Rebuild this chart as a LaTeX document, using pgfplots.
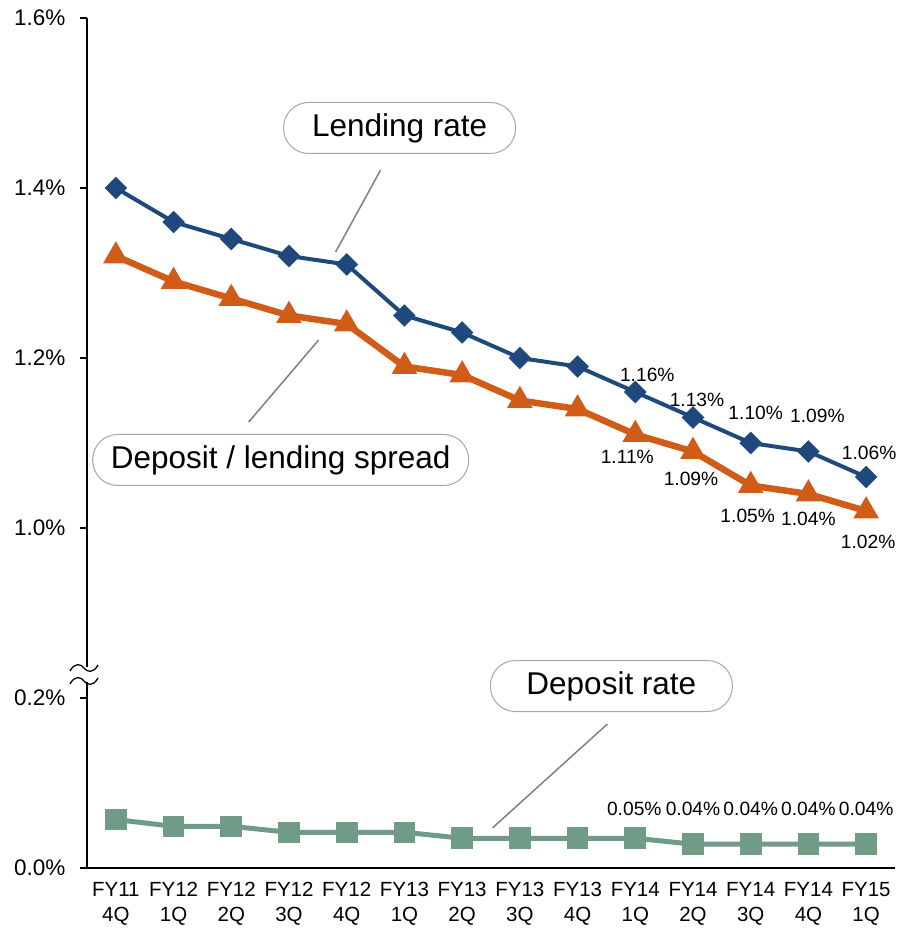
\documentclass[border=0pt]{standalone}
\usepackage{fontspec}
\setmainfont{Liberation Sans}
\usepackage{pgfplots}
\usepackage{pgfplotstable}
\pgfplotsset{compat=1.18}
\definecolor{lendblue}{RGB}{31,73,125}
\definecolor{sprorange}{RGB}{208,92,24}
\definecolor{depgreen}{RGB}{111,155,135}

% x = quarter index, y = rate in %, lab = data label, dx/dy = label offset (pt)
\pgfplotstableread{
x y lab dx dy
0 1.40 1.40 0 0
1 1.36 1.36 0 0
2 1.34 1.34 0 0
3 1.32 1.32 0 0
4 1.31 1.31 0 0
5 1.25 1.25 0 0
6 1.23 1.23 0 0
7 1.20 1.20 0 0
8 1.19 1.19 0 0
9 1.16 1.16 12 17
10 1.13 1.13 4 17.5
11 1.10 1.10 5 30
12 1.09 1.09 9 35.5
13 1.06 1.06 3 24
}\lending

\pgfplotstableread{
x y lab dx dy
0 1.32 1.32 0 0
1 1.29 1.29 0 0
2 1.27 1.27 0 0
3 1.25 1.25 0 0
4 1.24 1.24 0 0
5 1.19 1.19 0 0
6 1.18 1.18 0 0
7 1.15 1.15 0 0
8 1.14 1.14 0 0
9 1.11 1.11 -8 -22.5
10 1.09 1.09 -2 -27
11 1.05 1.05 -3 -30
12 1.04 1.04 0 -25
13 1.02 1.02 2 -31
}\spread

\pgfplotstableread{
x y lab dx dy
0 0.057 0.06 0 0
1 0.049 0.05 0 0
2 0.049 0.05 0 0
3 0.042 0.04 0 0
4 0.042 0.04 0 0
5 0.042 0.04 0 0
6 0.035 0.04 0 0
7 0.035 0.04 0 0
8 0.035 0.04 0 0
9 0.035 0.05 -1 29
10 0.028 0.04 0 35
11 0.028 0.04 0 35
12 0.028 0.04 0 35
13 0.028 0.04 0 35
}\deposit

\pgfplotsset{
  datalabels/.style={
    draw=none, mark=none, forget plot,
    restrict x to domain=8.5:13.5,
    point meta=explicit symbolic,
    nodes near coords={\pgfplotspointmeta\%},
    visualization depends on={\thisrow{dx}\as\dx},
    visualization depends on={\thisrow{dy}\as\dy},
    every node near coord/.style={anchor=center, inner sep=0pt,
      xshift=\dx pt, yshift=\dy pt, font=\fontsize{19.2}{22}\selectfont, text=black},
  },
}
\tikzset{
  callout/.style={draw=black!35, line width=1pt, fill=white, rounded corners=25pt,
    minimum height=51pt, font=\fontsize{31.5}{36}\selectfont, inner sep=0pt},
}

\begin{document}
\begin{tikzpicture}
\begin{axis}[
  scale only axis, width=808pt, height=850pt,
  xmin=-0.5, xmax=13.5, ymin=0, ymax=1,
  axis x line=bottom, axis y line=left,
  x axis line style={-, line width=1.3pt},
  y axis line style={-, line width=2.6pt},
  xtick={0,...,13},
  xticklabels={{FY11\\4Q},{FY12\\1Q},{FY12\\2Q},{FY12\\3Q},{FY12\\4Q},{FY13\\1Q},{FY13\\2Q},{FY13\\3Q},{FY13\\4Q},{FY14\\1Q},{FY14\\2Q},{FY14\\3Q},{FY14\\4Q},{FY15\\1Q}},
  xticklabel style={align=center, font=\fontsize{20.5}{25}\selectfont, yshift=-7pt},
  major x tick style={draw=none},
  ytick={0,0.2,0.4,0.6,0.8,1},
  yticklabels={0.0\%,0.2\%,1.0\%,1.2\%,1.4\%,1.6\%},
  yticklabel style={font=\fontsize{22.5}{26}\selectfont, xshift=-11pt},
  ytick align=outside, major tick length=7pt,
  major y tick style={line width=2pt, black},
  clip=false,
]
\coordinate (bl) at (rel axis cs:0,0);
\coordinate (tr) at (rel axis cs:1,1);

\addplot[lendblue, line width=4pt, mark=square*, mark size=6pt,
  mark options={rotate=45, solid, fill=lendblue, draw=none}]
  table[x=x, y expr=\thisrow{y}-0.6] {\lending};
\addplot[sprorange, line width=6.5pt, mark=triangle*, mark size=8.3pt,
  mark options={solid, fill=sprorange, draw=none}]
  table[x=x, y expr=\thisrow{y}-0.6] {\spread};
\addplot[depgreen, line width=5pt, mark=square*, mark size=8.3pt,
  mark options={solid, fill=depgreen, draw=none}]
  table[x=x, y=y] {\deposit};

\addplot[datalabels] table[x=x, y expr=\thisrow{y}-0.6, meta=lab] {\lending};
\addplot[datalabels] table[x=x, y expr=\thisrow{y}-0.6, meta=lab] {\spread};
\addplot[datalabels] table[x=x, y=y, meta=lab] {\deposit};

% callouts
\draw[black!50, line width=1.5pt] (axis cs:4.587,0.8212) -- (axis cs:3.808,0.7247);
\node[callout, minimum width=232pt] at (axis cs:4.916,0.8706) {Lending rate};
\draw[black!50, line width=1.5pt] (axis cs:2.302,0.5247) -- (axis cs:3.514,0.6212);
\node[callout, minimum width=376pt] at (axis cs:2.856,0.48) {Deposit / lending spread};
\draw[black!50, line width=1.5pt] (axis cs:8.517,0.1694) -- (axis cs:6.526,0.0471);
\node[callout, minimum width=242pt] at (axis cs:8.586,0.2141) {Deposit rate};
\end{axis}

% axis break marks
\begin{scope}[shift={(bl)}, x=1pt, y=1pt]
  \fill[white] (-4,186) rectangle (4,201);
  \draw[black, line width=1.3pt] (-17,197) .. controls (-12,206) and (-6,204) .. (-3,200) .. controls (0,196) and (6,194) .. (11,203);
  \draw[black, line width=1.3pt] (-17,184) .. controls (-12,193) and (-6,191) .. (-3,187) .. controls (0,183) and (6,181) .. (11,190);
\end{scope}

\pgfresetboundingbox
\path ([xshift=-87pt,yshift=-62pt]bl) rectangle ([xshift=2pt,yshift=18pt]tr);
\end{tikzpicture}
\end{document}
